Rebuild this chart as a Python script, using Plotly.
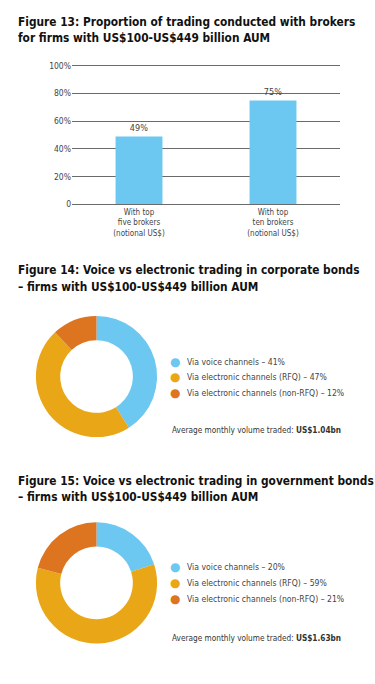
import plotly.graph_objects as go

W, H = 375, 684

# ---------------- data ----------------
bar_categories = ["With top<br>five brokers<br>(notional US$)",
                  "With top<br>ten brokers<br>(notional US$)"]
bar_values = [49, 75]
y_tickvals = [0, 20, 40, 60, 80, 100]
y_ticktext = ["0", "20%", "40%", "60%", "80%", "100%"]

pie_labels = ["Via voice channels", "Via electronic channels (RFQ)",
              "Via electronic channels (non-RFQ)"]
corp_values = [41, 47, 12]
gov_values = [20, 59, 21]
corp_volume = "US$1.04bn"
gov_volume = "US$1.63bn"

titles = [
    ["Figure 13: Proportion of trading conducted with brokers",
     "for firms with US$100-US$449 billion AUM"],
    ["Figure 14: Voice vs electronic trading in corporate bonds",
     "– firms with US$100-US$449 billion AUM"],
    ["Figure 15: Voice vs electronic trading in government bonds",
     "– firms with US$100-US$449 billion AUM"],
]

# ---------------- style ----------------
FONT = "Liberation Sans Narrow, Arial Narrow, DejaVu Sans Condensed, Liberation Sans, sans-serif"
BLUE = "#6DC8F1"
YELLOW = "#E9A617"
ORANGE = "#DD7420"
pie_colors = [BLUE, YELLOW, ORANGE]
TXT = "#444444"
TITLE_C = "#111111"


def py(px):
    return 1 - px / H


def pxx(px):
    return px / W


fig = go.Figure()

fig.add_trace(go.Bar(
    x=bar_categories, y=bar_values,
    marker=dict(color=BLUE, line=dict(width=0)),
    text=[f"{v}%" for v in bar_values], textposition="outside",
    textfont=dict(family=FONT, size=9, color=TXT),
    cliponaxis=False, hoverinfo="x+y", showlegend=False,
))

pie_domains = [
    dict(x=[pxx(35), pxx(158)], y=[py(438.5), py(315.5)]),
    dict(x=[pxx(35), pxx(158)], y=[py(648), py(525)]),
]
for vals, dom in zip([corp_values, gov_values], pie_domains):
    fig.add_trace(go.Pie(
        labels=pie_labels, values=vals, hole=0.6, sort=False,
        direction="clockwise", rotation=0, textinfo="none",
        marker=dict(colors=pie_colors, line=dict(width=0)),
        domain=dom, showlegend=False, hoverinfo="label+percent",
    ))

annotations = []
title_rows = [(17, 33), (269, 286), (483, 499)]
for lines, rows in zip(titles, title_rows):
    for line, yy in zip(lines, rows):
        annotations.append(dict(
            text=f"<b>{line}</b>", x=pxx(16), y=py(yy), xref="paper", yref="paper",
            xanchor="left", yanchor="middle", showarrow=False,
            font=dict(family=FONT, size=11.8, color=TITLE_C)))

legend_rows = [(362, 378, 394, 431, corp_values, corp_volume),
               (570, 586.5, 603, 642.5, gov_values, gov_volume)]
for r0, r1, r2, ravg, vals, vol in legend_rows:
    for lab, v, c, yy in zip(pie_labels, vals, pie_colors, (r0, r1, r2)):
        annotations.append(dict(
            text="●", x=pxx(174.5), y=py(yy), xref="paper", yref="paper",
            xanchor="center", yanchor="middle", showarrow=False,
            font=dict(family="DejaVu Sans", size=12, color=c)))
        annotations.append(dict(
            text=f"{lab} – {v}%", x=pxx(184.5), y=py(yy), xref="paper", yref="paper",
            xanchor="left", yanchor="middle", showarrow=False,
            font=dict(family=FONT, size=8.6, color=TXT)))
    annotations.append(dict(
        text=f"Average monthly volume traded: <b>{vol}</b>", x=pxx(170), y=py(ravg),
        xref="paper", yref="paper", xanchor="left", yanchor="middle", showarrow=False,
        font=dict(family=FONT, size=8.2, color="#333333")))

fig.update_layout(
    width=W, height=H, autosize=False,
    margin=dict(l=0, r=0, t=0, b=0),
    paper_bgcolor="white", plot_bgcolor="white",
    bargap=0.65,
    xaxis=dict(domain=[pxx(72), pxx(340)], showgrid=False, showline=True,
               mirror=True, linecolor="#6a6a6a", linewidth=1.2, ticks="",
               fixedrange=True, tickfont=dict(family=FONT, size=8, color=TXT)),
    yaxis=dict(domain=[py(202.3), py(61.7)], range=[0, 100], tickvals=y_tickvals,
               ticktext=y_ticktext, showgrid=True, gridcolor="#6a6a6a", gridwidth=1.2,
               zeroline=False, showline=False, ticks="", fixedrange=True,
               tickfont=dict(family=FONT, size=8.5, color=TXT)),
    annotations=annotations,
    font=dict(family=FONT, color=TXT),
)

fig.write_html("out.html", config={"displayModeBar": False},
               post_script="document.body.style.margin='0px';")
